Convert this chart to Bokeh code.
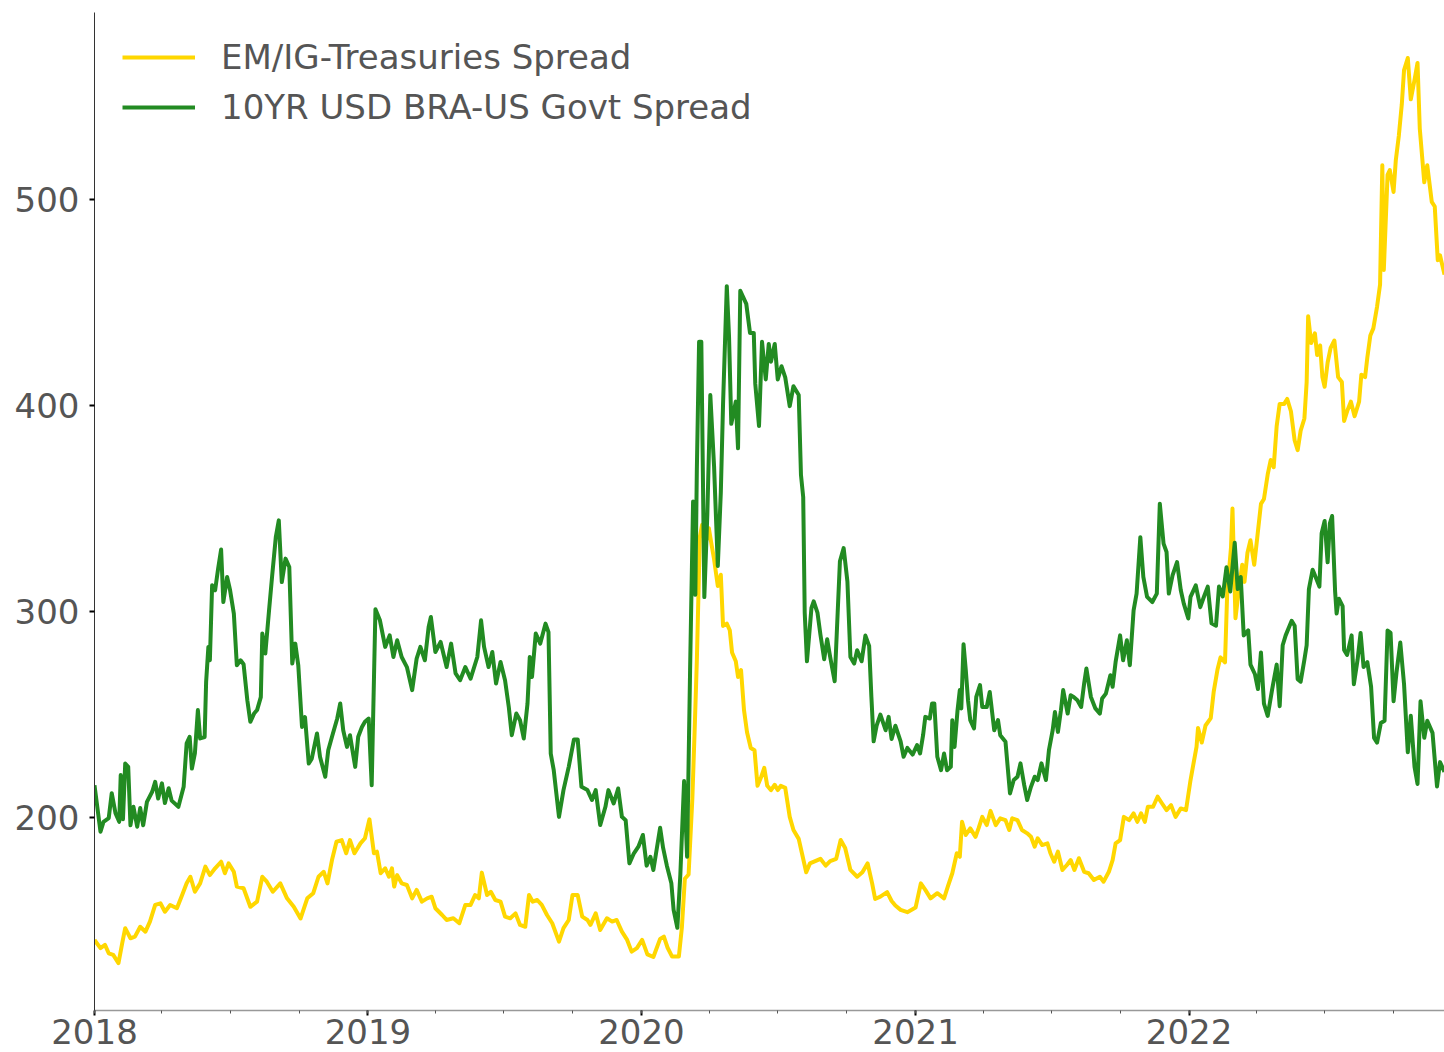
import pandas as pd
from bokeh.plotting import figure
from bokeh.models import Range1d, FixedTicker, DatetimeTickFormatter, Legend, LegendItem
from bokeh.embed import file_html
from bokeh.resources import INLINE

SERIES_NAMES = ["EM/IG-Treasuries Spread", "10YR USD BRA-US Govt Spread"]
SERIES_COLORS = ["#FFD700", "#228B22"]

# (date, spread in bp)
em_ig_spread = [
    ("2018-01-01",140.3),("2018-01-09",136.3),("2018-01-15",137.9),("2018-01-20",133.8),("2018-01-26",133),
    ("2018-02-02",129),("2018-02-07",138.7),("2018-02-11",146),("2018-02-18",141.1),("2018-02-24",141.9),
    ("2018-03-03",146.7),("2018-03-10",144.3),("2018-03-16",149.2),("2018-03-23",157.3),("2018-03-30",158.1),
    ("2018-04-05",154),("2018-04-12",157.3),("2018-04-21",155.7),("2018-04-28",162.1),("2018-05-04",167.8),
    ("2018-05-09",171),("2018-05-15",163.7),("2018-05-22",167.8),("2018-05-29",175.9),("2018-06-04",171.8),
    ("2018-06-11",175.1),("2018-06-19",178.3),("2018-06-24",172.7),("2018-06-29",177.5),("2018-07-06",173.4),
    ("2018-07-10",166.2),("2018-07-19",165.4),("2018-07-28",156.4),("2018-08-06",158.9),("2018-08-13",171),
    ("2018-08-19",168.6),("2018-08-27",163.7),("2018-09-06",167.8),("2018-09-15",160.5),("2018-09-24",156.4),
    ("2018-10-03",150.7),("2018-10-12",160.5),("2018-10-20",163),("2018-10-27",171),("2018-11-03",173.4),
    ("2018-11-08",167.8),("2018-11-14",179.1),("2018-11-20",188),("2018-11-27",188.8),("2018-12-03",182.4),
    ("2018-12-08",188.8),("2018-12-14",182.4),("2018-12-22",187.2),("2018-12-28",189.7),("2019-01-03",198.9),
    ("2019-01-09",182.4),("2019-01-13",183.2),("2019-01-18",172.7),("2019-01-24",175.1),("2019-01-29",171),
    ("2019-02-02",175.1),("2019-02-05",166.2),("2019-02-09",171.8),("2019-02-15",167.8),("2019-02-22",167),
    ("2019-03-01",160.5),("2019-03-07",164.6),("2019-03-14",158.9),("2019-03-21",160.5),("2019-03-27",161.3),
    ("2019-04-01",155.7),("2019-04-10",152.4),("2019-04-16",150),("2019-04-25",150.8),("2019-05-03",148.4),
    ("2019-05-11",157.3),("2019-05-18",157.3),("2019-05-24",162.1),("2019-05-29",160.5),("2019-06-02",173),
    ("2019-06-09",162.1),("2019-06-14",163.7),("2019-06-20",159.7),("2019-06-27",158.9),("2019-07-03",151.6),
    ("2019-07-10",150.8),("2019-07-17",153.2),("2019-07-23",147.6),("2019-07-30",146.7),("2019-08-04",162.1),
    ("2019-08-09",158.9),("2019-08-15",159.7),("2019-08-21",157.3),("2019-08-28",152.4),("2019-09-04",148.4),
    ("2019-09-13",139.5),("2019-09-19",146),("2019-09-26",150),("2019-10-01",162.1),("2019-10-08",162.1),
    ("2019-10-14",151.6),("2019-10-21",150),("2019-10-25",147.6),("2019-11-01",153.2),("2019-11-07",145.1),
    ("2019-11-16",150.8),("2019-11-23",149.2),("2019-11-29",150),("2019-12-06",144.3),("2019-12-13",140.3),
    ("2019-12-19",134.6),("2019-12-26",136.3),("2020-01-02",140.3),("2020-01-09",133.3),("2020-01-17",132),
    ("2020-01-26",140.8),("2020-01-31",141.9),("2020-02-05",136.5),("2020-02-11",132.2),("2020-02-20",132.2),
    ("2020-02-24",146.2),("2020-02-28",170),("2020-03-04",172.1),("2020-03-09",208.8),("2020-03-12",241.2),
    ("2020-03-15",275.7),("2020-03-19",336.1),("2020-03-22",342),("2020-03-26",331.7),("2020-03-31",340.4),
    ("2020-04-04",331.7),("2020-04-07",325.3),("2020-04-12",312.3),("2020-04-16",317.8),("2020-04-19",292.9),
    ("2020-04-24",294),("2020-04-28",290.8),("2020-05-01",280),("2020-05-06",275.7),("2020-05-09",268.1),
    ("2020-05-13",271.4),("2020-05-17",251.9),("2020-05-21",241.2),("2020-05-26",233.6),("2020-05-31",232.5),
    ("2020-06-04",215.2),("2020-06-09",219.6),("2020-06-13",223.9),("2020-06-17",215.2),("2020-06-22",213.1),
    ("2020-06-27",215.7),("2020-07-01",213.1),("2020-07-05",215.2),("2020-07-11",214.2),("2020-07-17",200.1),
    ("2020-07-22",193.7),("2020-07-29",189.4),("2020-08-02",182.9),("2020-08-08",173.2),("2020-08-13",177.5),
    ("2020-08-20",178.6),("2020-08-27",179.7),("2020-09-03",176.4),("2020-09-09",178.6),("2020-09-17",179.7),
    ("2020-09-23",188.9),("2020-09-29",185),("2020-10-06",174.3),("2020-10-15",171),("2020-10-22",173.2),
    ("2020-10-29",177.5),("2020-11-04",167.8),("2020-11-08",160.2),("2020-11-15",161.3),("2020-11-24",163.5),
    ("2020-11-30",159.2),("2020-12-05",157),("2020-12-12",154.9),("2020-12-21",153.8),("2021-01-01",156),
    ("2021-01-08",167.8),("2021-01-14",164.6),("2021-01-21",160.5),("2021-01-30",163),("2021-02-08",160.5),
    ("2021-02-13",166.2),("2021-02-19",172.7),("2021-02-25",182.4),("2021-03-01",180.7),("2021-03-04",197.7),
    ("2021-03-09",191.3),("2021-03-15",194.5),("2021-03-22",190.4),("2021-03-26",194.5),("2021-03-31",200.1),
    ("2021-04-06",196.1),("2021-04-11",203),("2021-04-18",196.1),("2021-04-24",199.4),("2021-05-01",198.5),
    ("2021-05-06",193.7),("2021-05-10",199.4),("2021-05-17",198.5),("2021-05-23",193.7),("2021-05-30",192.1),
    ("2021-06-04",190.4),("2021-06-09",185.6),("2021-06-13",189.7),("2021-06-19",186.4),("2021-06-26",187.2),
    ("2021-06-30",182.4),("2021-07-05",178.3),("2021-07-10",183.2),("2021-07-16",174.3),("2021-07-22",176.7),
    ("2021-07-27",179.1),("2021-08-01",174.3),("2021-08-07",180),("2021-08-14",173.4),("2021-08-20",172.7),
    ("2021-08-27",169.4),("2021-09-04",171),("2021-09-09",168.6),("2021-09-16",173.4),("2021-09-21",179.1),
    ("2021-09-25",187.2),("2021-10-01",188.8),("2021-10-06",200.1),("2021-10-13",198.5),("2021-10-19",201.8),
    ("2021-10-24",197.7),("2021-10-29",201.8),("2021-11-03",197.7),("2021-11-07",205),("2021-11-14",205),
    ("2021-11-20",209.9),("2021-11-26",206.6),("2021-12-02",203.4),("2021-12-08",205.8),("2021-12-14",200.1),
    ("2021-12-21",204.2),("2021-12-28",203.4),("2021-12-31",210.7),("2022-01-03",218),("2022-01-07",226.1),
    ("2022-01-11",234.1),("2022-01-13",243.3),("2022-01-18",236.2),("2022-01-23",244.5),("2022-01-30",248.1),
    ("2022-02-03",261.1),("2022-02-08",271.7),("2022-02-12",277.6),("2022-02-18",275.2),("2022-02-21",309.6),
    ("2022-02-26",330.9),("2022-02-28",349.9),("2022-03-04",296.6),("2022-03-09",312),("2022-03-13",322.6),
    ("2022-03-16",314.3),("2022-03-20",328.5),("2022-03-24",334.5),("2022-03-29",322.6),("2022-04-02",335.6),
    ("2022-04-07",352.2),("2022-04-11",354.6),("2022-04-16",366.5),("2022-04-20",373.5),("2022-04-24",370),
    ("2022-04-28",390.1),("2022-05-02",400.8),("2022-05-08",400.8),("2022-05-12",403.2),("2022-05-17",397.2),
    ("2022-05-22",383),("2022-05-26",378.3),("2022-05-30",387.8),("2022-06-04",393.7),("2022-06-07",411.4),
    ("2022-06-09",443.4),("2022-06-13",430.4),("2022-06-18",435.1),("2022-06-21",424.5),("2022-06-25",429.2),
    ("2022-06-28",413.8),("2022-07-01",409.1),("2022-07-05",420.9),("2022-07-09",428),("2022-07-14",431.6),
    ("2022-07-19",413.8),("2022-07-24",411.4),("2022-07-27",392.5),("2022-07-31",397.2),("2022-08-05",401.9),
    ("2022-08-10",394.8),("2022-08-16",401.9),("2022-08-19",415),("2022-08-24",413.8),("2022-08-27",423.3),
    ("2022-08-31",434),("2022-09-04",437.5),("2022-09-09",448.1),("2022-09-13",458.8),("2022-09-16",516.8),
    ("2022-09-18",465.9),("2022-09-23",512.1),("2022-09-26",514.4),("2022-10-01",503.8),("2022-10-04",519.2),
    ("2022-10-08",531),("2022-10-12",546.4),("2022-10-15",563),("2022-10-20",568.9),("2022-10-24",548.8),
    ("2022-10-29",558.3),("2022-11-02",566.5),("2022-11-05",534.6),("2022-11-11",508.5),("2022-11-15",516.8),
    ("2022-11-21",499),("2022-11-25",496.7),("2022-11-29",470.6),("2022-12-02",473),("2022-12-08",463.6),
]

bra_us_spread = [
    ("2018-01-01",215.5),("2018-01-09",192.9),("2018-01-13",197.7),("2018-01-20",199.5),("2018-01-24",211.6),
    ("2018-01-29",201.9),("2018-02-03",197.7),("2018-02-05",220.4),("2018-02-08",199),("2018-02-11",226),
    ("2018-02-15",224.4),("2018-02-18",196),("2018-02-22",205),("2018-02-27",195.3),("2018-03-03",204.4),
    ("2018-03-07",196),("2018-03-12",207.4),("2018-03-19",212.3),("2018-03-23",217.1),("2018-03-27",209),
    ("2018-04-01",216.4),("2018-04-05",206.8),("2018-04-10",214),("2018-04-14",208),("2018-04-23",205),
    ("2018-04-30",214.7),("2018-05-04",235.8),("2018-05-08",239),("2018-05-11",223.6),("2018-05-15",231),
    ("2018-05-19",252),("2018-05-22",238.2),("2018-05-28",238.9),("2018-05-30",265.7),("2018-06-02",282.7),
    ("2018-06-04",276.2),("2018-06-07",312.6),("2018-06-11",310.2),("2018-06-15",320.7),("2018-06-19",330),
    ("2018-06-22",304.5),("2018-06-27",316.7),("2018-07-01",310.2),("2018-07-06",298.9),("2018-07-10",273.8),
    ("2018-07-15",276.2),("2018-07-19",274.3),("2018-07-24",256.8),("2018-07-28",246.3),("2018-08-02",250.3),
    ("2018-08-06",252),("2018-08-11",258.3),("2018-08-13",289.2),("2018-08-17",279.5),("2018-08-22",300.5),
    ("2018-08-26",316.7),("2018-08-31",336),("2018-09-04",344.2),("2018-09-08",314.2),("2018-09-13",325.6),
    ("2018-09-18",321.5),("2018-09-22",274.6),("2018-09-26",284.3),("2018-09-30",273.8),("2018-10-05",243.8),
    ("2018-10-09",248.6),("2018-10-14",226),("2018-10-18",228.4),("2018-10-25",240.6),("2018-10-29",229.3),
    ("2018-11-05",219.6),("2018-11-09",232.5),("2018-11-14",239),("2018-11-21",247.9),("2018-11-25",255.2),
    ("2018-11-29",242.2),("2018-12-04",234.1),("2018-12-08",239.8),("2018-12-15",224.4),("2018-12-19",239),
    ("2018-12-24",243.8),("2018-12-28",246.3),("2019-01-02",247.9),("2019-01-06",215.5),("2019-01-11",301),
    ("2019-01-17",295.6),("2019-01-24",282.7),("2019-01-30",288.3),("2019-02-04",277.8),("2019-02-09",285.9),
    ("2019-02-15",277.8),("2019-02-22",272.9),("2019-03-01",261.7),("2019-03-07",277),("2019-03-12",282.7),
    ("2019-03-18",276.2),("2019-03-23",292.4),("2019-03-26",297.2),("2019-04-01",280.2),("2019-04-08",285.1),
    ("2019-04-16",272.9),("2019-04-22",284.3),("2019-04-28",269.8),("2019-05-04",266.5),("2019-05-11",272.9),
    ("2019-05-18",267.3),("2019-05-27",277.8),("2019-06-01",295.6),("2019-06-05",282.7),("2019-06-11",272.9),
    ("2019-06-16",280.2),("2019-06-21",264.9),("2019-06-27",275.4),("2019-07-03",266.5),("2019-07-08",253.5),
    ("2019-07-12",239.8),("2019-07-18",250.3),("2019-07-23",247.1),("2019-07-28",238.2),("2019-08-02",255.2),
    ("2019-08-05",277.8),("2019-08-08",268.1),("2019-08-13",289.2),("2019-08-19",284.3),("2019-08-26",294),
    ("2019-08-30",289.9),("2019-09-02",230.8),("2019-09-06",222.8),("2019-09-13",200.1),("2019-09-19",213.1),
    ("2019-09-26",224.4),("2019-10-03",237.7),("2019-10-08",237.7),("2019-10-13",214.7),("2019-10-21",213.1),
    ("2019-10-27",208.3),("2019-11-01",213.1),("2019-11-07",196.1),("2019-11-14",205),("2019-11-18",213.1),
    ("2019-11-25",206.6),("2019-12-01",213.9),("2019-12-06",200.1),("2019-12-11",198.5),("2019-12-16",177.5),
    ("2019-12-22",182.4),("2019-12-28",185.6),("2020-01-03",191.3),("2020-01-08",176.4),("2020-01-13",180.7),
    ("2020-01-17",174.3),("2020-01-26",194.8),("2020-01-30",185),("2020-02-04",176.4),("2020-02-10",167.8),
    ("2020-02-13",154.9),("2020-02-18",146.2),("2020-02-22",172.1),("2020-02-27",217.5),("2020-03-02",180.7),
    ("2020-03-06",271.4),("2020-03-10",353.4),("2020-03-13",308),("2020-03-15",368.4),("2020-03-18",431),
    ("2020-03-21",431),("2020-03-25",306.9),("2020-03-29",346.9),("2020-04-02",405.1),("2020-04-07",370.6),
    ("2020-04-12",322),("2020-04-16",357.7),("2020-04-19",400.8),("2020-04-24",458),("2020-04-27",433.2),
    ("2020-04-30",391.1),("2020-05-06",401.9),("2020-05-09",379.2),("2020-05-12",455.8),("2020-05-16",452.6),
    ("2020-05-20",449.4),("2020-05-25",435.3),("2020-05-30",435.3),("2020-06-01",410.5),("2020-06-06",390),
    ("2020-06-10",431),("2020-06-15",412.7),("2020-06-19",429.9),("2020-06-22",421.3),("2020-06-27",429.9),
    ("2020-07-01",412.7),("2020-07-06",419.1),("2020-07-11",413.7),("2020-07-17",399.7),("2020-07-22",409.4),
    ("2020-07-29",405.1),("2020-08-01",366.3),("2020-08-04",355.5),("2020-08-06",299.4),("2020-08-09",275.7),
    ("2020-08-15",301.6),("2020-08-18",304.8),("2020-08-23",299.4),("2020-08-27",288.6),("2020-09-01",276.7),
    ("2020-09-05",286.4),("2020-09-09",277.8),("2020-09-15",266),("2020-09-19",299.4),("2020-09-22",324.3),
    ("2020-09-27",330.7),("2020-10-02",314.5),("2020-10-06",277.8),("2020-10-11",274.6),("2020-10-15",281.1),
    ("2020-10-21",275.7),("2020-10-26",288.2),("2020-10-31",283.2),("2020-11-03",258.4),("2020-11-06",236.8),
    ("2020-11-10",244.4),("2020-11-15",249.8),("2020-11-22",242.2),("2020-11-26",248.7),("2020-11-30",237.9),
    ("2020-12-05",244.4),("2020-12-12",236.8),("2020-12-16",229.3),("2020-12-21",233.6),("2020-12-28",230.4),
    ("2021-01-03",235),("2021-01-07",230.9),("2021-01-11",239.8),("2021-01-14",248.7),("2021-01-20",247.9),
    ("2021-01-23",255.2),("2021-01-26",255.2),("2021-01-30",229.3),("2021-02-04",222.8),("2021-02-08",230.9),
    ("2021-02-12",222.8),("2021-02-17",224.4),("2021-02-19",247.1),("2021-02-22",234.1),("2021-02-26",251.9),
    ("2021-03-01",261.7),("2021-03-03",252.8),("2021-03-06",284),("2021-03-09",271.4),("2021-03-12",256.8),
    ("2021-03-15",247.1),("2021-03-20",243.1),("2021-03-23",258.4),("2021-03-28",264.1),("2021-03-31",253.5),
    ("2021-04-06",253.5),("2021-04-10",260.8),("2021-04-16",242.2),("2021-04-21",247.1),("2021-04-24",239.8),
    ("2021-05-01",236.6),("2021-05-07",211.5),("2021-05-12",218),("2021-05-17",219.6),("2021-05-21",226.1),
    ("2021-05-26",215.5),("2021-05-30",208.3),("2021-06-04",214.7),("2021-06-09",219.6),("2021-06-13",218),
    ("2021-06-18",226.1),("2021-06-24",218),("2021-06-28",232.5),("2021-07-03",242.2),("2021-07-06",251.1),
    ("2021-07-10",241.4),("2021-07-14",251.9),("2021-07-17",261.7),("2021-07-23",250.3),("2021-07-27",259.2),
    ("2021-07-31",258.4),("2021-08-05",256.8),("2021-08-10",253.5),("2021-08-14",264.9),("2021-08-17",272.2),
    ("2021-08-23",258.4),("2021-08-29",252.8),("2021-09-04",250.3),("2021-09-07",257.6),("2021-09-12",260),
    ("2021-09-18",268.9),("2021-09-21",263.3),("2021-09-25",275.4),("2021-10-01",288.3),("2021-10-05",276.2),
    ("2021-10-10",285.9),("2021-10-14",273.8),("2021-10-19",300.5),("2021-10-23",308.6),("2021-10-28",336),
    ("2021-11-01",316.7),("2021-11-06",307),("2021-11-13",304.5),("2021-11-19",308.6),("2021-11-23",352.3),
    ("2021-11-28",332.9),("2021-12-02",328.8),("2021-12-05",308.6),("2021-12-10",317.5),("2021-12-16",323.9),
    ("2021-12-21",310.2),("2021-12-25",303.7),("2021-12-31",296.5),("2022-01-03",307),("2022-01-10",312.6),
    ("2022-01-16",302),("2022-01-21",307.2),("2022-01-26",312),("2022-01-31",294.2),("2022-02-06",293),
    ("2022-02-10",312),("2022-02-15",307.2),("2022-02-20",321.4),("2022-02-25",309.6),("2022-03-03",333.3),
    ("2022-03-07",310.8),("2022-03-11",316.7),("2022-03-15",288.3),("2022-03-21",290.7),("2022-03-24",274.1),
    ("2022-03-30",269.4),("2022-04-03",262.2),("2022-04-07",280),("2022-04-11",255.1),("2022-04-16",249.2),
    ("2022-04-22",262.2),("2022-04-28",274.1),("2022-05-02",253.9),("2022-05-06",283.5),("2022-05-10",288.3),
    ("2022-05-18",295.4),("2022-05-22",293),("2022-05-26",267),("2022-05-30",265.8),("2022-06-04",276.5),
    ("2022-06-07",283.5),("2022-06-10",310.8),("2022-06-15",320.2),("2022-06-19",316.7),("2022-06-24",312),
    ("2022-06-27",338),("2022-07-01",343.9),("2022-07-05",323.8),("2022-07-08",342.8),("2022-07-11",346.3),
    ("2022-07-15",309.6),("2022-07-17",298.9),("2022-07-20",306.1),("2022-07-25",302.5),("2022-07-27",281.2),
    ("2022-07-31",278.8),("2022-08-06",288.3),("2022-08-09",264.6),("2022-08-14",276.5),("2022-08-18",289.5),
    ("2022-08-22",272.9),("2022-08-27",275.3),("2022-09-01",263.4),("2022-09-05",238.5),("2022-09-09",236.2),
    ("2022-09-14",245.7),("2022-09-19",246.8),("2022-09-23",290.7),("2022-09-27",289.5),("2022-10-01",256.3),
    ("2022-10-05",270.5),("2022-10-10",284.8),("2022-10-15",264.6),("2022-10-20",231.5),("2022-10-24",249.2),
    ("2022-10-29",224.4),("2022-11-02",216.1),("2022-11-06",256.3),("2022-11-11",238.5),("2022-11-15",246.8),
    ("2022-11-22",240.9),("2022-11-28",214.9),("2022-12-02",226.7),("2022-12-08",222),
]

YEAR_TICKS = ["2018-01-01", "2019-01-01", "2020-01-01", "2021-01-01", "2022-01-01"]
QUARTER_TICKS = [f"{y}-{m:02d}-01" for y in range(2018, 2023) for m in (1, 4, 7, 10)]
Y_TICKS = [200, 300, 400, 500]
Y_LIMITS = (106, 591)

def ms(s):
    return pd.Timestamp(s).value // 10**6

def unzip(pairs):
    return pd.to_datetime([d for d, _ in pairs]), [v for _, v in pairs]

x_em, y_em = unzip(em_ig_spread)
x_br, y_br = unzip(bra_us_spread)

text_font = "DejaVu Sans"
text_color = "#555555"
font_size = "34px"

p = figure(width=1444, height=1052, x_axis_type="datetime",
           output_backend="svg", toolbar_location=None,
           x_range=Range1d(x_em[0], x_em[-1]), y_range=Range1d(*Y_LIMITS),
           min_border_left=94, min_border_right=0, min_border_top=12, min_border_bottom=42)
p.outline_line_color = None
p.xgrid.visible = False
p.ygrid.visible = False
p.background_fill_color = "white"
p.border_fill_color = "white"

r_em = p.line(x_em, y_em, line_color=SERIES_COLORS[0], line_width=4, line_join="round")
r_br = p.line(x_br, y_br, line_color=SERIES_COLORS[1], line_width=4, line_join="round")

p.xaxis.ticker = FixedTicker(ticks=[ms(t) for t in YEAR_TICKS],
                             minor_ticks=[ms(t) for t in QUARTER_TICKS])
p.xaxis.formatter = DatetimeTickFormatter(years="%Y", months="%Y", days="%Y", hours="%Y",
                                          minutes="%Y", seconds="%Y", milliseconds="%Y",
                                          microseconds="%Y", hourmin="%Y", minsec="%Y")
p.yaxis.ticker = FixedTicker(ticks=Y_TICKS, minor_ticks=[])

for ax in (p.xaxis[0], p.yaxis[0]):
    ax.major_label_text_font = text_font
    ax.major_label_text_font_size = font_size
    ax.major_label_text_color = text_color
    ax.major_tick_line_color = "black"
    ax.major_tick_line_width = 2
    ax.major_tick_in = 0
    ax.major_tick_out = 5

p.xaxis.axis_line_color = "#999999"
p.xaxis.axis_line_width = 1.5
p.xaxis.minor_tick_line_color = "#555555"
p.xaxis.minor_tick_line_width = 1
p.xaxis.minor_tick_in = 0
p.xaxis.minor_tick_out = 3
p.xaxis.major_label_standoff = 3

p.yaxis.axis_line_color = "#333333"
p.yaxis.axis_line_width = 1
p.yaxis.minor_tick_line_color = None
p.yaxis.major_label_standoff = 10

legend = Legend(items=[LegendItem(label=SERIES_NAMES[0], renderers=[r_em]),
                       LegendItem(label=SERIES_NAMES[1], renderers=[r_br])],
                location=(28, 878))
legend.border_line_color = None
legend.background_fill_alpha = 0
legend.label_text_font = text_font
legend.label_text_font_size = font_size
legend.label_text_color = text_color
legend.glyph_width = 73
legend.glyph_height = 50
legend.label_height = 50
legend.label_standoff = 26
legend.spacing = 0
legend.padding = 0
legend.margin = 0
p.add_layout(legend)

open("out.html", "w").write(file_html(p, INLINE))
